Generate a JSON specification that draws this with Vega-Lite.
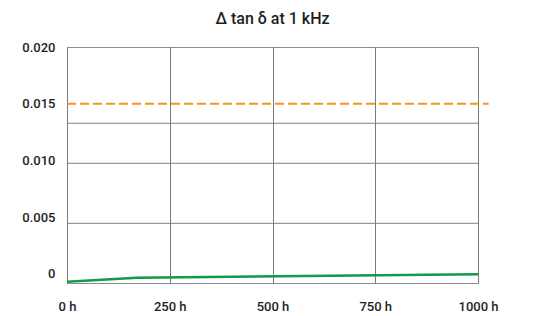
{
  "$schema": "https://vega.github.io/schema/vega-lite/v6.json",
  "width": 411,
  "height": 236,
  "autosize": {"type": "none"},
  "padding": {"left": 67, "top": 47, "right": 55, "bottom": 33},
  "background": "#ffffff",
  "title": {"text": "Δ tan δ at 1 kHz", "fontSize": 16, "font": "Roboto", "fontWeight": 500, "color": "#1e1e1e", "offset": 14},
  "config": {
    "view": {"stroke": "#8c8c8c", "strokeWidth": 1},
    "axis": {"labelFont": "Roboto", "labelFontSize": 13, "labelColor": "#1e1e1e", "labelFontWeight": 500}
  },
  "datasets": {
    "measured": [
      {"hours": 0, "delta": -0.00069},
      {"hours": 170, "delta": -0.00033},
      {"hours": 1000, "delta": -0.00003}
    ],
    "limit": [
      {"hours": 0, "delta": 0.015},
      {"hours": 1026, "delta": 0.015}
    ],
    "grid": [
      {"delta": 0.00446},
      {"delta": 0.00975},
      {"delta": 0.01328}
    ]
  },
  "layer": [
    {
      "data": {"name": "grid"},
      "mark": {"type": "rule", "color": "#808080", "strokeWidth": 1},
      "encoding": {
        "y": {"field": "delta", "type": "quantitative"}
      }
    },
    {
      "data": {"name": "limit"},
      "mark": {"type": "line", "color": "#F7941D", "strokeWidth": 2, "strokeDash": [9, 4], "clip": false},
      "encoding": {
        "x": {"field": "hours", "type": "quantitative"},
        "y": {"field": "delta", "type": "quantitative"}
      }
    },
    {
      "data": {"name": "measured"},
      "mark": {"type": "line", "color": "#129A48", "strokeWidth": 2.5},
      "encoding": {
        "x": {
          "field": "hours", "type": "quantitative",
          "scale": {"domain": [0, 1000], "nice": false, "zero": false},
          "axis": {
            "title": null, "values": [0, 250, 500, 750, 1000],
            "labelExpr": "datum.value + ' h'",
            "grid": true, "gridColor": "#7a7a7a", "gridOpacity": 1, "gridWidth": 1,
            "ticks": false, "domain": false, "labelPadding": 17,
            "labelFlush": false,
            "encode": {"labels": {"update": {
              "align": {"signal": "datum.value === 0 ? 'left' : 'center'"},
              "dx": {"signal": "datum.value === 1000 ? -8 : datum.value === 750 ? 5 : datum.value === 250 ? -3 : 0"}
            }}}
          }
        },
        "y": {
          "field": "delta", "type": "quantitative",
          "scale": {"domain": [-0.0008, 0.02], "nice": false, "zero": false},
          "axis": {
            "title": null, "values": [0, 0.005, 0.01, 0.015, 0.02],
            "labelExpr": "datum.value === 0 ? '0' : format(datum.value, '.3f')",
            "grid": false, "ticks": false, "domain": false, "labelPadding": 12
          }
        }
      }
    }
  ]
}
